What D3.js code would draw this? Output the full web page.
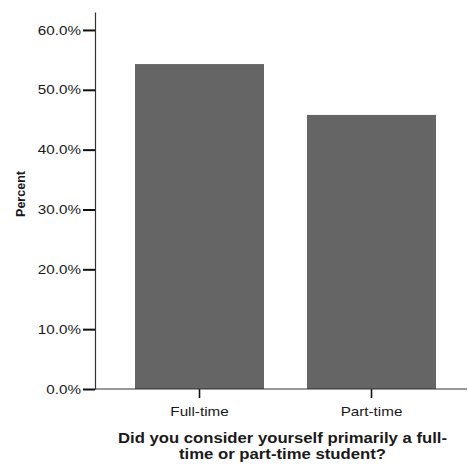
<!DOCTYPE html>
<html>
<head>
<meta charset="utf-8">
<script src="https://cdn.jsdelivr.net/npm/d3@7"></script>
<style>
  html, body { margin: 0; padding: 0; background: #fff; }
  svg { display: block; }
  text { font-family: "Liberation Sans", Arial, sans-serif; fill: #1a1a1a; }
</style>
</head>
<body>
<svg id="chart" width="468" height="468"></svg>
<script>
const categories = ["Full-time", "Part-time"];
const percents = [54.3, 45.8];
const yTicks = [0, 10, 20, 30, 40, 50, 60];
const yLabel = "Percent";
const xTitleLines = ["Did you consider yourself primarily a full-", "time or part-time student?"];

const svg = d3.select("#chart");
const stretch = 1.17;

const y = d3.scaleLinear().domain([0, 63]).range([389, 12]);
const x = d3.scaleBand().domain(categories).range([113.5, 457.5])
  .paddingInner(0.25).paddingOuter(0.125);

// bars
svg.append("g").selectAll("rect").data(categories).join("rect")
  .attr("x", d => x(d))
  .attr("width", x.bandwidth())
  .attr("y", (d, i) => y(percents[i]))
  .attr("height", (d, i) => y(0) - y(percents[i]))
  .attr("fill", "#656565");

// y axis
const yAxis = svg.append("g").attr("transform", "translate(95,0)")
  .call(d3.axisLeft(y).tickValues(yTicks).tickSize(12).tickSizeOuter(0)
    .tickFormat(d => d.toFixed(1) + "%"));
yAxis.select(".domain").attr("stroke", "#333").attr("stroke-width", 1.2);
yAxis.selectAll(".tick line").attr("stroke", "#111").attr("stroke-width", 2);
yAxis.selectAll(".tick text").attr("x", -14).attr("font-size", 13)
  .attr("font-family", "Liberation Sans, Arial, sans-serif").attr("fill", "#1a1a1a");

// x axis
const xAxis = svg.append("g").attr("transform", "translate(0,389)")
  .call(d3.axisBottom(x).tickSize(9).tickSizeOuter(0));
xAxis.select(".domain").remove();
xAxis.append("line").attr("x1", 95).attr("x2", 467).attr("y1", 0).attr("y2", 0)
  .attr("stroke", "#333").attr("stroke-width", 1.2);
xAxis.selectAll(".tick line").attr("stroke", "#111").attr("stroke-width", 1.6);
xAxis.selectAll(".tick text").attr("y", 27).attr("dy", null).attr("font-size", 13)
  .attr("font-family", "Liberation Sans, Arial, sans-serif").attr("fill", "#1a1a1a");

// stretch regular text horizontally
svg.selectAll(".tick text").each(function() {
  const w = this.getComputedTextLength();
  d3.select(this).attr("textLength", w * stretch).attr("lengthAdjust", "spacingAndGlyphs");
});

// y label
svg.append("text")
  .attr("transform", "translate(25,194) rotate(-90)")
  .attr("text-anchor", "middle")
  .attr("font-size", 12.5).attr("font-weight", "bold")
  .text(yLabel);

// x title
const titleWidths = [329, 207];
svg.append("g").selectAll("text").data(xTitleLines).join("text")
  .attr("x", 282.5)
  .attr("y", (d, i) => 443 + i * 16)
  .attr("text-anchor", "middle")
  .attr("font-size", 14).attr("font-weight", "bold")
  .attr("textLength", (d, i) => titleWidths[i])
  .attr("lengthAdjust", "spacingAndGlyphs")
  .text(d => d);
</script>
</body>
</html>
